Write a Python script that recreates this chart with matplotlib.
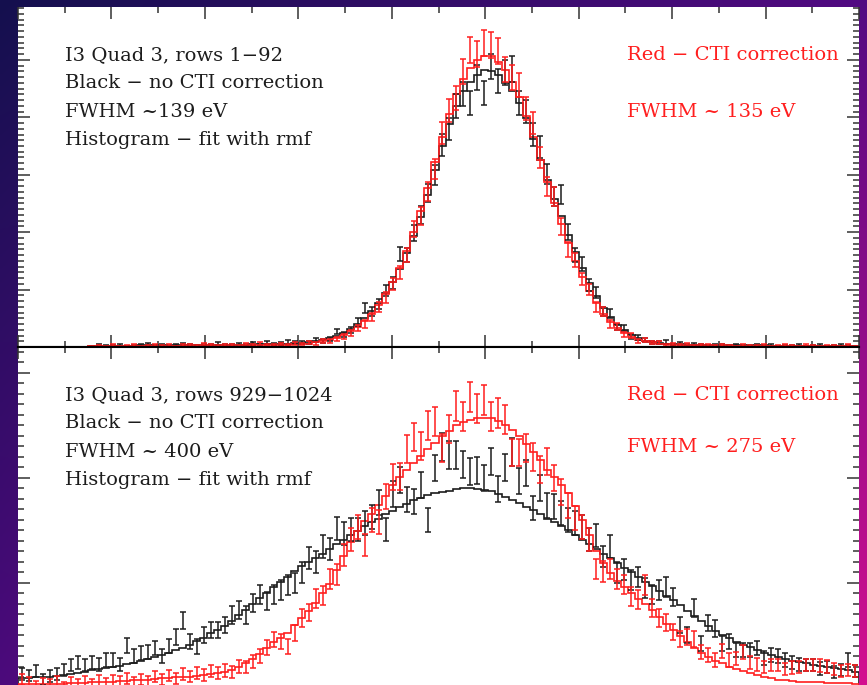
import numpy as np
import matplotlib.pyplot as plt
from matplotlib.ticker import MultipleLocator

# common channel grid for both panels
nbin = 120
bw = 0.075
edges = np.arange(nbin + 1) * bw
centres = edges[:-1] + bw / 2
top_start = 10   # rows 1-92 spectrum begins at this bin

# ---- rows 1-92 (counts per bin, bins 10..119) ----
top_model_raw = [2, 2, 2, 2, 2, 2, 2, 3, 3, 3,
                 3, 3, 3, 3, 3, 3, 4, 4, 4, 4,
                 4, 4, 4, 5, 5, 5, 5, 6, 6, 7,
                 7, 8, 10, 12, 15, 19, 24, 31, 40, 51,
                 63, 77, 94, 114, 136, 163, 194, 227, 265, 308,
                 350, 388, 420, 445, 461, 474, 482, 481, 473, 460,
                 446, 425, 398, 362, 325, 290, 258, 228, 195, 165,
                 138, 112, 88, 68, 52, 39, 29, 21, 15, 11,
                 9, 7, 6, 5, 5, 4, 4, 4, 3, 3,
                 3, 3, 3, 3, 3, 3, 3, 2, 2, 2,
                 2, 2, 2, 2, 2, 2, 2, 2, 2, 2]
top_model_cti = [1, 1, 1, 1, 2, 2, 2, 2, 2, 2,
                 2, 2, 2, 2, 3, 3, 3, 3, 3, 3,
                 3, 3, 3, 3, 4, 4, 4, 4, 4, 5,
                 5, 6, 8, 10, 12, 16, 21, 27, 35, 45,
                 58, 74, 93, 113, 138, 168, 200, 236, 277, 322,
                 365, 405, 440, 466, 486, 499, 507, 506, 496, 482,
                 462, 436, 403, 365, 325, 287, 250, 215, 181, 150,
                 122, 97, 76, 58, 44, 33, 24, 18, 13, 10,
                 8, 6, 5, 4, 4, 4, 3, 3, 3, 3,
                 3, 3, 2, 2, 2, 2, 2, 2, 2, 2,
                 2, 2, 2, 2, 2, 2, 2, 1, 1, 1]
top_data_raw = [1, 3, 2, 2, 4, 1, 2, 3, 5, 2,
                4, 2, 3, 5, 3, 2, 4, 3, 6, 4,
                3, 5, 4, 6, 4, 7, 5, 6, 9, 7,
                8, 7, 12, 11, 14, 27, 22, 30, 44, 68,
                62, 75, 98, 112, 162, 160, 198, 230, 268, 300,
                352, 380, 420, 440, 425, 470, 442, 488, 463, 478,
                484, 425, 410, 370, 348, 301, 262, 265, 200, 160,
                145, 108, 95, 62, 58, 35, 33, 18, 17, 12,
                8, 7, 9, 4, 6, 3, 5, 4, 2, 3,
                4, 2, 3, 2, 1, 3, 2, 4, 1, 2,
                2, 3, 1, 2, 4, 1, 2, 3, 2, 1]
top_data_cti = [1, 2, 1, 3, 1, 2, 3, 1, 2, 4,
                2, 3, 1, 4, 3, 2, 5, 3, 2, 4,
                4, 2, 5, 3, 6, 4, 3, 5, 4, 6,
                5, 7, 6, 11, 10, 14, 18, 24, 33, 40,
                52, 70, 86, 110, 130, 160, 205, 228, 270, 310,
                372, 412, 434, 479, 517, 510, 529, 526, 516, 483,
                470, 456, 415, 390, 330, 280, 262, 210, 170, 152,
                118, 100, 70, 62, 40, 36, 22, 20, 11, 12,
                7, 8, 4, 5, 3, 5, 2, 3, 4, 2,
                3, 2, 1, 3, 2, 2, 4, 1, 2, 3,
                2, 1, 3, 2, 1, 2, 2, 1, 3, 1]

# ---- rows 929-1024 (counts per bin, bins 0..119) ----
bot_model_raw = [64, 64, 65, 65, 66, 67, 69, 70, 71, 73,
                 75, 77, 78, 80, 82, 84, 86, 88, 91, 94,
                 97, 100, 104, 107, 112, 117, 122, 128, 133, 139,
                 146, 154, 162, 170, 178, 186, 194, 202, 209, 217,
                 224, 230, 236, 242, 249, 255, 261, 268, 274, 281,
                 287, 292, 298, 303, 308, 313, 318, 322, 325, 328,
                 330, 332, 334, 335, 335, 334, 333, 331, 327, 323,
                 318, 314, 309, 304, 298, 292, 287, 281, 275, 269,
                 262, 256, 249, 242, 235, 228, 221, 215, 208, 202,
                 195, 189, 182, 175, 168, 160, 153, 146, 139, 132,
                 126, 121, 116, 112, 108, 104, 100, 97, 94, 91,
                 89, 87, 85, 83, 81, 80, 78, 77, 75, 73]
bot_model_cti = [55, 55, 55, 56, 56, 56, 56, 57, 57, 57,
                 58, 58, 58, 59, 60, 60, 61, 61, 62, 63,
                 64, 64, 65, 66, 66, 67, 68, 70, 71, 73,
                 76, 80, 85, 91, 99, 107, 115, 122, 129, 140,
                 150, 160, 172, 185, 198, 218, 238, 258, 274, 288,
                 299, 312, 324, 340, 352, 362, 372, 382, 391, 400,
                 410, 417, 425, 430, 433, 435, 436, 435, 431, 425,
                 419, 410, 399, 387, 375, 362, 352, 340, 328, 310,
                 290, 268, 245, 228, 214, 203, 194, 185, 177, 170,
                 161, 152, 142, 133, 124, 115, 107, 100, 94, 89,
                 85, 80, 77, 74, 71, 68, 66, 64, 62, 61,
                 60, 59, 59, 58, 58, 57, 57, 57, 57, 56]
bot_data_raw = [70, 68, 74, 62, 67, 70, 76, 83, 87, 83,
                87, 84, 90, 90, 84, 111, 96, 100, 101, 107,
                96, 110, 123, 147, 117, 109, 126, 133, 133, 140,
                154, 161, 154, 171, 184, 174, 184, 190, 197, 200,
                215, 236, 230, 252, 248, 278, 270, 276, 276, 286,
                294, 315, 276, 327, 347, 319, 316, 340, 290, 364,
                394, 383, 383, 369, 359, 361, 350, 374, 334, 365,
                387, 346, 357, 307, 336, 311, 309, 300, 290, 286,
                280, 262, 268, 238, 252, 215, 219, 204, 209, 193,
                183, 190, 194, 180, 140, 126, 164, 114, 143, 135,
                114, 117, 104, 104, 104, 107, 93, 97, 96, 90,
                86, 84, 83, 83, 78, 80, 73, 76, 90, 74]
bot_data_cti = [62, 58, 53, 57, 55, 59, 52, 58, 56, 60,
                55, 61, 57, 61, 59, 63, 58, 62, 60, 66,
                62, 68, 64, 70, 66, 72, 69, 74, 71, 75,
                73, 81, 80, 88, 96, 108, 119, 117, 109, 129,
                150, 158, 178, 182, 205, 212, 240, 262, 280, 254,
                290, 287, 323, 351, 352, 391, 408, 396, 425, 430,
                393, 420, 453, 438, 466, 449, 461, 438, 443, 433,
                386, 386, 393, 380, 362, 373, 350, 330, 311, 293,
                280, 262, 220, 216, 220, 205, 198, 181, 176, 197,
                164, 150, 144, 130, 120, 123, 120, 101, 97, 90,
                103, 90, 92, 101, 87, 84, 80, 83, 83, 77,
                79, 80, 83, 83, 82, 81, 77, 74, 76, 74]

black = '#1c1c1c'
red = '#ff1e1e'

fig = plt.figure(figsize=(8.67, 6.85), dpi=100)

# purple slide background
bg = fig.add_axes([0, 0, 1, 1], zorder=-10)
u = np.linspace(0, 1, 300)[None, :, None]
v = np.linspace(0, 1, 240)[:, None, None]
tl = np.array([0x14, 0x10, 0x4e]) / 255
tr = np.array([0x52, 0x0a, 0x82]) / 255
bl = np.array([0x4c, 0x0a, 0x7c]) / 255
br = np.array([0xd4, 0x10, 0x90]) / 255
grad = (1 - u) * (1 - v) * tl + u * (1 - v) * tr + (1 - u) * v * bl + u * v * br
bg.imshow(grad, aspect='auto', extent=[0, 1, 0, 1])
bg.axis('off')

L, W = 18 / 867, 841 / 867
ax1 = fig.add_axes([L, 338 / 685, W, 340 / 685])
ax2 = fig.add_axes([L, -38 / 685, W, 376 / 685])


def style(ax, ymax, major, minor, offset=0):
    ax.set_xlim(0, 9)
    ax.set_ylim(0, ymax)
    ax.xaxis.set_major_locator(MultipleLocator(1))
    ax.xaxis.set_minor_locator(MultipleLocator(0.5))
    ax.yaxis.set_major_locator(MultipleLocator(major, offset))
    ax.yaxis.set_minor_locator(MultipleLocator(minor, offset % minor))
    ax.tick_params(which='both', direction='in', top=True, right=True,
                   labelbottom=False, labelleft=False, color='#333333', width=1.1)
    ax.tick_params(which='major', length=8.8)
    ax.tick_params(which='minor', length=4.6)
    for s in ['left', 'right', 'top', 'bottom']:
        ax.spines[s].set_visible(False)


style(ax1, 592, 100, 10)
style(ax2, 537, 150, 15, 50)
ax1.spines['bottom'].set_visible(True)
ax1.spines['bottom'].set_linewidth(1.5)
ax2.spines['top'].set_visible(True)
ax2.spines['top'].set_linewidth(1.5)

# spectra: black = no correction, red = CTI corrected
e_top = edges[top_start:]
c_top = centres[top_start:]
for ax, e, c, m, d, col in [
        (ax1, e_top, c_top, top_model_raw, top_data_raw, black),
        (ax1, e_top, c_top, top_model_cti, top_data_cti, red),
        (ax2, edges, centres, bot_model_raw, bot_data_raw, black),
        (ax2, edges, centres, bot_model_cti, bot_data_cti, red)]:
    d = np.array(d, dtype=float)
    ax.stairs(m, e, color=col, lw=1.2)
    ax.errorbar(c, d, yerr=np.sqrt(d), fmt='none', ecolor=col,
                elinewidth=1.1, capsize=2.3, capthick=1.1)

font = dict(family='DejaVu Serif', fontsize=14, va='baseline')


def label(x, y, s, col):
    fig.text(x / 867, 1 - y / 685, s, color=col, **font)


label(65, 60, 'I3 Quad 3, rows 1\u221292', black)
label(65, 88, 'Black \u2212 no CTI correction', black)
label(65, 117, 'FWHM ~139 eV', black)
label(65, 145, 'Histogram \u2212 fit with rmf', black)
label(627, 60, 'Red \u2212 CTI correction', red)
label(627, 117, 'FWHM ~ 135 eV', red)

label(65, 400, 'I3 Quad 3, rows 929\u22121024', black)
label(65, 428, 'Black \u2212 no CTI correction', black)
label(65, 457, 'FWHM ~ 400 eV', black)
label(65, 485, 'Histogram \u2212 fit with rmf', black)
label(627, 400, 'Red \u2212 CTI correction', red)
label(627, 452, 'FWHM ~ 275 eV', red)

fig.savefig('out.png', dpi=100)
